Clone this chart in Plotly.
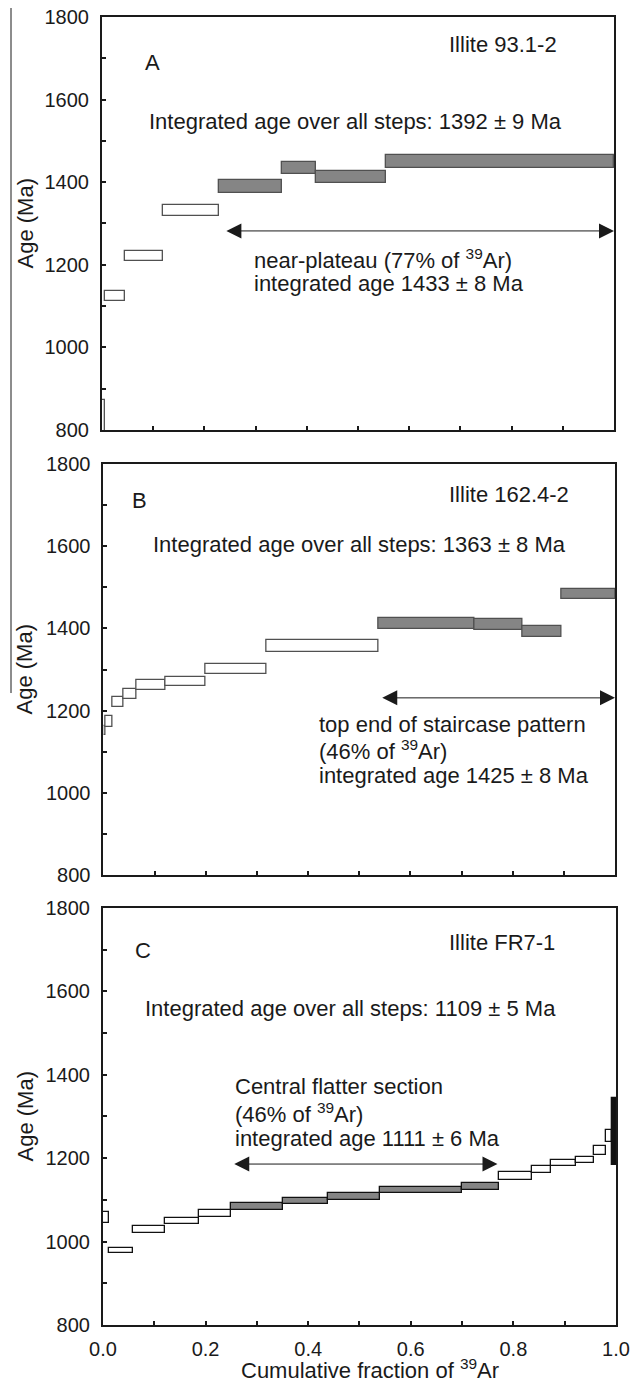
import numpy as np
import plotly.graph_objects as go

# ---------------- data ----------------
# Panel A : Illite 93.1-2
a_cum = [0.000, 0.005, 0.045, 0.119, 0.229, 0.352, 0.418, 0.554, 1.000]
a_age = [823, 1125, 1222, 1331, 1390, 1434, 1413, 1450]
a_err = [50, 12, 12, 13, 15, 15, 15, 15]
a_plateau = [0, 0, 0, 0, 1, 1, 1, 1]
a_range = [0.240, 1.000]
a_range_age = 1282

# Panel B : Illite 162.4-2
b_cum = [0.000, 0.003, 0.017, 0.039, 0.064, 0.122, 0.199, 0.318, 0.538,
         0.725, 0.819, 0.896, 1.000]
b_age = [1152, 1174, 1222, 1240, 1262, 1271, 1301, 1357, 1412, 1410, 1392, 1484]
b_err = [11, 14, 12, 12, 12, 11, 12, 14, 14, 14, 14, 13]
b_plateau = [0, 0, 0, 0, 0, 0, 0, 0, 1, 1, 1, 1]
b_range = [0.542, 1.000]
b_range_age = 1231

# Panel C : Illite FR7-1
c_cum = [0.000, 0.011, 0.058, 0.120, 0.188, 0.250, 0.350, 0.438, 0.539, 0.699,
         0.772, 0.837, 0.874, 0.923, 0.957, 0.980, 0.993, 1.000]
c_age = [1058, 979, 1030, 1050, 1068, 1084, 1098, 1109, 1124, 1132,
         1157, 1173, 1189, 1195, 1219, 1254, 1264]
c_err = [13, 7, 8, 8, 8, 8, 7, 8, 8, 8, 9, 9, 8, 7, 11, 14, 80]
c_plateau = [0, 0, 0, 0, 0, 1, 1, 1, 1, 1, 0, 0, 0, 0, 0, 0, 0]
c_range = [0.253, 0.769]
c_range_age = 1186

y_ticks = [800, 1000, 1200, 1400, 1600, 1800]
x_ticks = [0.0, 0.2, 0.4, 0.6, 0.8, 1.0]
x_ticklabels = ["0.0", "0.2", "0.4", "0.6", "0.8", "1.0"]

# ---------------- style ----------------
FONT = "Liberation Sans, Arial, Helvetica, sans-serif"
INK = "#1a1a1a"
GRAY = "#858585"
DARK_STEPS_C = {16}   # last, very small step drawn solid black in the original

fig = go.Figure()


def steps(cum, age, err, plat, xa, ya, edge, dark=()):
    cum = np.asarray(cum, float)
    lo, hi = cum[:-1], cum[1:]
    age = np.asarray(age, float)
    err = np.asarray(err, float)
    fills = []
    for i, p in enumerate(plat):
        if i in dark:
            fills.append("#111111")
        else:
            fills.append(GRAY if p else "white")
    return go.Bar(x=(lo + hi) / 2, y=2 * err, base=age - err, width=hi - lo,
                  marker=dict(color=fills, line=dict(color=edge, width=1.3)),
                  xaxis=xa, yaxis=ya, hoverinfo="skip", showlegend=False)


fig.add_trace(steps(a_cum, a_age, a_err, a_plateau, "x", "y", "#505050"))
fig.add_trace(steps(b_cum, b_age, b_err, b_plateau, "x2", "y2", "#505050"))
fig.add_trace(steps(c_cum, c_age, c_err, c_plateau, "x3", "y3", "#111111",
                    DARK_STEPS_C))

domains = {
    "": ([0.1611, 0.9700], [0.6891, 0.9877]),
    "2": ([0.1635, 0.9716], [0.3673, 0.6645]),
    "3": ([0.1627, 0.9731], [0.0419, 0.3435]),
}

axis_common = dict(showline=True, linecolor=INK, linewidth=2, mirror=True,
                   ticks="inside", ticklen=4, tickwidth=2, tickcolor=INK,
                   showgrid=False, zeroline=False, automargin=False)

layout_axes = {}
for k, (xd, yd) in domains.items():
    layout_axes["xaxis" + k] = dict(
        axis_common, domain=xd, range=[0, 1], anchor="y" + k,
        tickvals=x_ticks, ticktext=x_ticklabels,
        showticklabels=(k == "3"), ticklabelstandoff=5,
        tickfont=dict(size=20, color=INK, family=FONT),
        minor=dict(ticks="inside", ticklen=4, tickwidth=2, tickcolor=INK, dtick=0.1))
    layout_axes["yaxis" + k] = dict(
        axis_common, domain=yd, range=[800, 1800], anchor="x" + k,
        tickvals=y_ticks, ticklabelstandoff=7,
        tickfont=dict(size=20, color=INK, family=FONT),
        minor=dict(ticks="inside", ticklen=4, tickwidth=2, tickcolor=INK, dtick=100))

fig.update_layout(**layout_axes)

ann = []


def txt(text, x, y, xr, yr, xanchor="left", size=22):
    ann.append(dict(text=text, x=x, y=y, xref=xr, yref=yr, xanchor=xanchor,
                    yanchor="middle", showarrow=False,
                    font=dict(size=size, color=INK, family=FONT)))


def arrow(rng, age, xr, yr):
    ann.append(dict(text="", x=rng[1], y=age, ax=rng[0], ay=age,
                    xref=xr, yref=yr, axref=xr, ayref=yr,
                    showarrow=True, arrowside="end+start", arrowhead=2,
                    arrowsize=3.0, arrowwidth=1.0, arrowcolor=INK, standoff=0,
                    startstandoff=0))


AR = "<sup>39</sup>Ar"
# Panel A
txt("A", 0.098, 1691, "x", "y", "center")
txt("Illite 93.1-2", 0.674, 1733, "x", "y")
txt("Integrated age over all steps: 1392 ± 9 Ma", 0.088, 1548, "x", "y")
txt("near-plateau (77% of " + AR + ")", 0.293, 1215, "x", "y")
txt("integrated age 1433 ± 8 Ma", 0.293, 1154, "x", "y")
arrow(a_range, a_range_age, "x", "y")
# Panel B
txt("B", 0.071, 1712, "x2", "y2", "center")
txt("Illite 162.4-2", 0.671, 1727, "x2", "y2")
txt("Integrated age over all steps: 1363 ± 8 Ma", 0.093, 1605, "x2", "y2")
txt("top end of staircase pattern", 0.417, 1165, "x2", "y2")
txt("(46% of " + AR + ")", 0.417, 1104, "x2", "y2")
txt("integrated age 1425 ± 8 Ma", 0.417, 1041, "x2", "y2")
arrow(b_range, b_range_age, "x2", "y2")
# Panel C
txt("C", 0.078, 1699, "x3", "y3", "center")
txt("Illite FR7-1", 0.671, 1718, "x3", "y3")
txt("Integrated age over all steps: 1109 ± 5 Ma", 0.078, 1558, "x3", "y3")
txt("Central flatter section", 0.253, 1371, "x3", "y3")
txt("(46% of " + AR + ")", 0.253, 1308, "x3", "y3")
txt("integrated age 1111 ± 6 Ma", 0.253, 1248, "x3", "y3")
arrow(c_range, c_range_age, "x3", "y3")

# axis titles
for k, (xd, yd) in domains.items():
    ann.append(dict(text="Age (Ma)", x=0.0395, y=(yd[0] + yd[1]) / 2,
                    xref="paper", yref="paper", textangle=-90,
                    xanchor="center", yanchor="middle", showarrow=False,
                    font=dict(size=22, color=INK, family=FONT)))
ann.append(dict(text="Cumulative fraction of " + AR, x=0.5845, y=0.0101,
                xref="paper", yref="paper", xanchor="center", yanchor="middle",
                showarrow=False, font=dict(size=22, color=INK, family=FONT)))

fig.update_layout(
    annotations=ann,
    width=633, height=1383,
    margin=dict(l=0, r=0, t=0, b=0, pad=0, autoexpand=False),
    paper_bgcolor="white", plot_bgcolor="white",
    barmode="overlay", bargap=0,
    showlegend=False,
    font=dict(family=FONT, size=20, color=INK),
    shapes=[dict(type="line", xref="paper", yref="paper",
                 x0=0.0174, x1=0.0174, y0=0.9942, y1=0.4989,
                 line=dict(color=INK, width=1))],
)

fig.write_html("out.html")
